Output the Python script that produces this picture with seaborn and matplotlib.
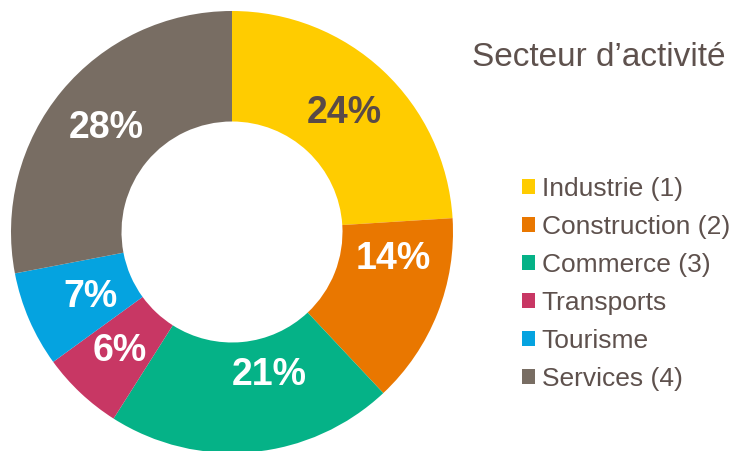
import matplotlib
matplotlib.use("Agg")
import matplotlib.pyplot as plt
import seaborn as sns

# data
secteurs = ["Industrie (1)", "Construction (2)", "Commerce (3)",
            "Transports", "Tourisme", "Services (4)"]
parts = [24, 14, 21, 6, 7, 28]
couleurs = ["#FFCC00", "#E97700", "#05B287", "#C83764", "#05A3E0", "#786D63"]
couleurs_texte = ["#594A47", "white", "white", "white", "white", "white"]
titre = "Secteur d\u2019activit\u00e9"

sns.set_theme(style="white")
plt.rcParams["font.family"] = ["Liberation Sans", "DejaVu Sans"]
gris = "#5E514D"

fig = plt.figure(figsize=(7.33, 4.51), dpi=100)
ax = fig.add_axes([11 / 733, -2 / 451, 442 / 733, 442 / 451])

wedges, texts, autotexts = ax.pie(
    parts, colors=sns.color_palette(couleurs), startangle=90, counterclock=False,
    autopct=lambda p: f"{p:.0f}%", pctdistance=0.74,
    wedgeprops=dict(width=0.5, linewidth=0),
    textprops=dict(fontsize=27, fontweight="bold"),
)
for t, c in zip(autotexts, couleurs_texte):
    t.set_color(c)
# small manual nudges like in the original layout
decalages = {1: (0.04, 0.15), 2: (0.1, 0.09), 4: (0.04, 0.0)}
for i, (dx, dy) in decalages.items():
    x, y = autotexts[i].get_position()
    autotexts[i].set_position((x + dx, y + dy))
ax.set_aspect("equal")
ax.set_xlim(-1, 1)
ax.set_ylim(-1, 1)

fig.text(599 / 733, 1 - 57 / 451, titre, ha="center", va="center",
         fontsize=24, color=gris, fontweight="medium")

leg = fig.legend(wedges, secteurs, loc="upper left",
                 bbox_to_anchor=(522 / 733, 1 - 177 / 451),
                 frameon=False, fontsize=19, labelcolor=gris,
                 handlelength=0.5, handleheight=0.5, handletextpad=0.25,
                 labelspacing=0.53, borderpad=0, borderaxespad=0)

fig.savefig("out.png", dpi=100)
